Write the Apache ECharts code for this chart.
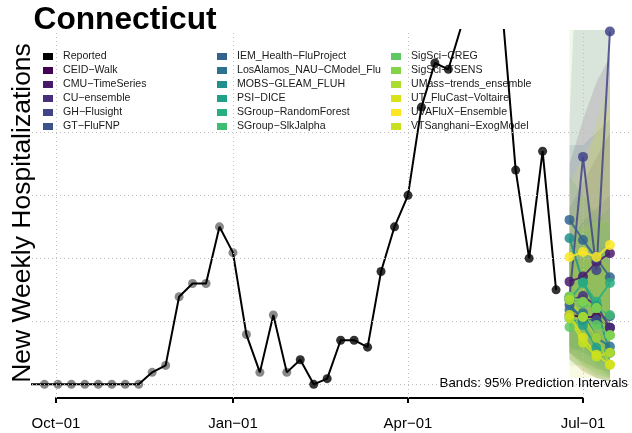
<!DOCTYPE html>
<html><head><meta charset="utf-8">
<script src="https://cdn.jsdelivr.net/npm/echarts@6/dist/echarts.min.js"></script>
<style>html,body{margin:0;padding:0;background:#fff}#c{width:632px;height:433px}</style>
</head><body><div id="c"></div>
<script>
const stateName = 'Connecticut';
const yTitle = 'New Weekly Hospitalizations';
const bandNote = 'Bands: 95% Prediction Intervals';
const tickDates = ['2023-10-01','2024-01-01','2024-04-01','2024-07-01'];
const tickLabels = ['Oct−01','Jan−01','Apr−01','Jul−01'];
const gridValues = [0,100,200,300,400];

const reportedDates = ['2023-09-18','2023-09-25','2023-10-02','2023-10-09','2023-10-16','2023-10-23','2023-10-30','2023-11-06','2023-11-13','2023-11-20','2023-11-27','2023-12-04','2023-12-11','2023-12-18','2023-12-25','2024-01-01','2024-01-08','2024-01-15','2024-01-22','2024-01-29','2024-02-05','2024-02-12','2024-02-19','2024-02-26','2024-03-04','2024-03-11','2024-03-18','2024-03-25','2024-04-01','2024-04-08','2024-04-15','2024-04-22','2024-04-29','2024-05-06','2024-05-13','2024-05-20','2024-05-27','2024-06-03','2024-06-10','2024-06-17'];
const reportedValues = [0,0,0,0,0,0,0,0,0,19,30,139,160,160,250,209,79,19,110,19,39,0,9,70,70,59,179,250,300,440,510,500,571,650,640,595,340,200,370,150];
const greyPointCount = 20;

const forecastDates = ['2024-06-24','2024-07-01','2024-07-08','2024-07-15'];
const modelNames = ['CEID−Walk','CMU−TimeSeries','CU−ensemble','GH−Flusight','GT−FluFNP','IEM_Health−FluProject','LosAlamos_NAU−CModel_Flu','MOBS−GLEAM_FLUH','PSI−DICE','SGroup−RandomForest','SGroup−SlkJalpha','SigSci−CREG','SigSci−TSENS','UMass−trends_ensemble','UT_FluCast−Voltaire','UVAFluX−Ensemble','VTSanghani−ExogModel'];
const modelColors = ['#440154','#481A6C','#472F7D','#414487','#3B528B','#33638D','#2C728E','#21908D','#1FA088','#28AE80','#3FBC73','#5EC962','#84D44B','#ADDC30','#D8E219','#FDE725','#C8E020'];
const modelMedian = [
  [110,107,107,90],
  [163,171,194,208],
  [134,140,125,90],
  [139,361,181,560],
  [126,102,102,108],
  [261,229,200,170],
  [118,113,74,60],
  [232,162,121,50],
  [105,94,58,50],
  [134,161,131,161],
  [139,129,121,110],
  [91,107,94,78],
  [139,131,121,78],
  [134,107,74,31],
  [110,74,47,31],
  [202,210,202,221],
  [105,66,44,50]
];
const modelLower = [
  [40,20,10,5],[60,50,40,30],[50,35,25,15],[50,60,40,60],[50,35,25,20],
  [110,80,50,30],[50,30,15,10],[120,60,30,10],[40,25,10,5],[60,50,30,30],
  [60,40,30,20],[30,30,20,10],[50,30,20,10],[50,25,10,5],[40,20,10,5],
  [90,80,60,50],[10,10,10,10]
];
const modelUpper = [
  [350,420,480,520],[280,320,360,400],[220,260,280,300],[420,900,700,1200],[200,200,210,230],
  [380,380,400,420],[200,220,200,190],[330,300,270,250],[180,190,180,170],[220,260,260,280],
  [230,240,250,260],[170,200,210,210],[700,750,800,850],[230,250,260,260],[190,200,200,190],
  [320,360,400,440],[260,300,420,480]
];

const FONT = '"Liberation Sans", Arial, Helvetica, sans-serif';
const chart = echarts.init(document.getElementById('c'), null, {renderer:'canvas'});

const panelLeft = 32, panelRight = 632, axisLeft = 56, axisRight = 583;
const toT = d => +new Date(d + 'T00:00:00Z');
const t0 = toT(tickDates[0]), t1 = toT(tickDates[tickDates.length-1]);
const msPerPx = (t1 - t0) / (axisRight - axisLeft);
const xMin = t0 - (axisLeft - panelLeft) * msPerPx;
const xMax = t1 + (panelRight - axisRight) * msPerPx;
const tickTimes = tickDates.map(toT);

function clipTop(poly, yTop){
  const out = [];
  for (let k = 0; k < poly.length; k++){
    const a = poly[k], b = poly[(k+1) % poly.length];
    const ain = a[1] >= yTop, bin = b[1] >= yTop;
    if (ain) out.push(a);
    if (ain !== bin){
      const t = (yTop - a[1]) / (b[1] - a[1]);
      out.push([a[0] + t*(b[0]-a[0]), yTop]);
    }
  }
  return out;
}

const series = [];
series.push({
  type:'line', xAxisIndex:0, yAxisIndex:0, data:[], z:2, silent:true,
  markLine:{silent:true, symbol:'none', animation:false, label:{show:false},
    lineStyle:{color:'#bdbdbd', width:1, type:[1,3]},
    emphasis:{disabled:true},
    data:[...gridValues.map(v=>({yAxis:v})), ...tickTimes.map(t=>({xAxis:t}))]}
});
modelNames.forEach((name,i)=>{
  series.push({type:'custom', name:name+' band', z:1, silent:true, clip:true, animation:false,
    data: forecastDates.map((d,j)=>[toT(d), modelLower[i][j], modelUpper[i][j]]),
    encode:{x:0, y:[1,2]},
    renderItem:(params, api)=>{
      if (params.dataIndex !== 0) return null;
      const up = forecastDates.map((d,j)=>api.coord([toT(d), modelUpper[i][j]]));
      const lo = forecastDates.map((d,j)=>api.coord([toT(d), modelLower[i][j]])).reverse();
      const poly = clipTop(up.concat(lo), params.coordSys.y);
      return {type:'polygon', shape:{points:poly}, style:{fill:modelColors[i], opacity:0.13}};
    }});
});
const pts = reportedDates.map((d,i)=>[toT(d), reportedValues[i]]);
series.push({type:'scatter', name:'Reported grey', data:pts.slice(0,greyPointCount), symbolSize:9,
  itemStyle:{color:'#6b6b6b'}, z:3, silent:true, animation:false});
series.push({type:'line', name:'Reported', data:pts, symbol:'none', color:'#000',
  lineStyle:{color:'#000', width:2}, itemStyle:{color:'#000'}, z:4, silent:true, animation:false});
series.push({type:'scatter', name:'Reported pts', data:pts.slice(greyPointCount), symbolSize:9,
  itemStyle:{color:'#000'}, z:5, silent:true, animation:false});
modelNames.forEach((name,i)=>{
  series.push({type:'line', name:name, data:forecastDates.map((d,j)=>[toT(d), modelMedian[i][j]]),
    symbol:'circle', symbolSize:10, showSymbol:true, color:modelColors[i],
    lineStyle:{width:2, color:modelColors[i], opacity:0.85},
    itemStyle:{color:modelColors[i], opacity:0.85}, z:6, silent:true, animation:false});
});
series.push({type:'line', xAxisIndex:1, yAxisIndex:1, data:[], silent:true});

const legendCommon = {orient:'vertical', icon:'rect', itemWidth:10, itemHeight:7, itemGap:0,
  padding:0, selectedMode:false, top:49.5, itemStyle:{opacity:1}, lineStyle:{opacity:1},
  textStyle:{fontSize:10.6, color:'#1a1a1a', fontFamily:FONT, lineHeight:14, padding:[0,0,0,5]}};

const option = {
  animation:false,
  backgroundColor:'#fff',
  textStyle:{fontFamily:FONT},
  grid:[
    {left:panelLeft, right:632-panelRight, top:30, bottom:35},
    {left:axisLeft, right:632-axisRight, top:30, bottom:35}
  ],
  xAxis:[
    {gridIndex:0, type:'value', min:xMin, max:xMax, show:false},
    {gridIndex:1, type:'value', min:t0, max:t1,
      axisLine:{show:true, lineStyle:{color:'#000', width:2}},
      axisTick:{show:true, customValues:tickTimes, length:5, lineStyle:{color:'#000', width:2}},
      axisLabel:{show:true, customValues:tickTimes, color:'#000', fontSize:15, fontFamily:FONT, margin:18,
        formatter:(v)=>{const k = tickTimes.indexOf(+v); return k>=0 ? tickLabels[k] : '';}},
      splitLine:{show:false}, minorTick:{show:false}}
  ],
  yAxis:[
    {gridIndex:0, type:'value', min:-21.7, max:562.4, show:false},
    {gridIndex:1, type:'value', min:0, max:1, show:false}
  ],
  legend:[
    Object.assign({}, legendCommon, {left:43, data:['Reported', ...modelNames.slice(0,5)]}),
    Object.assign({}, legendCommon, {left:217, data:modelNames.slice(5,11)}),
    Object.assign({}, legendCommon, {left:391, data:modelNames.slice(11)})
  ],
  graphic:[
    {type:'text', x:33.5, y:20, silent:true, style:{text:stateName, font:'bold 31.7px '+FONT, fill:'#000', align:'left', verticalAlign:'middle'}},
    {type:'text', x:22.5, y:213, rotation:Math.PI/2, silent:true, style:{text:yTitle, font:'26.5px '+FONT, fill:'#000', align:'center', verticalAlign:'middle'}},
    {type:'text', x:628, y:383, silent:true, z:100, style:{text:bandNote, font:'13.3px '+FONT, fill:'#000', align:'right', verticalAlign:'middle'}}
  ],
  series
};
chart.setOption(option);
</script></body></html>
